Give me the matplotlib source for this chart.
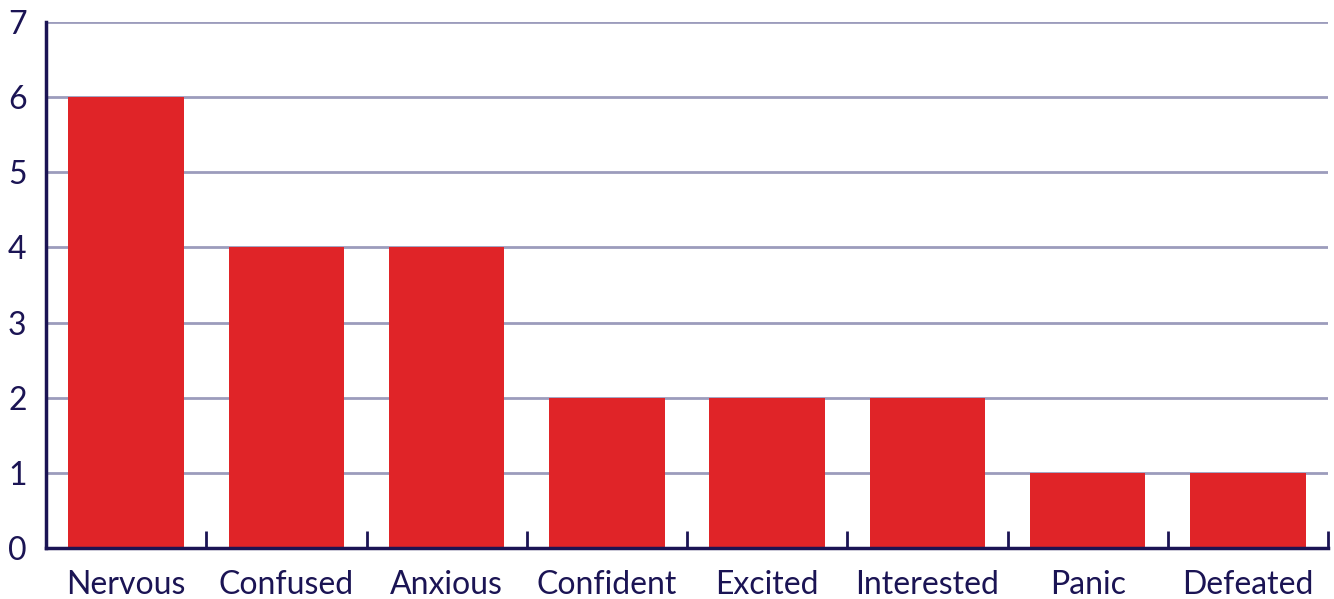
import numpy as np
import matplotlib.pyplot as plt

categories = ['Nervous', 'Confused', 'Anxious', 'Confident', 'Excited', 'Interested', 'Panic', 'Defeated']
counts = [6, 4, 4, 2, 2, 2, 1, 1]

navy = '#1b1454'
red = '#e02428'
grid_col = '#9c9cbc'

plt.rcParams['font.family'] = ['Lato', 'DejaVu Sans']

fig = plt.figure(figsize=(13.34, 5.99), dpi=100)
ax = fig.add_axes([0.0345, 0.0851, 0.961, 0.8782])

x = np.arange(len(categories))
ax.bar(x, counts, width=0.72, color=red, zorder=3)

ax.set_xlim(-0.5, len(categories) - 0.5)
ax.set_ylim(0, 7)
ax.set_yticks(range(8))
ax.yaxis.grid(True, color=grid_col, linewidth=2, zorder=0)

ax.set_xticks(x)
ax.set_xticklabels(categories)
ax.set_xticks(np.arange(-0.5, len(categories)), minor=True)
ax.tick_params(axis='x', which='major', length=0, pad=16, labelsize=23, labelcolor=navy)
ax.tick_params(axis='x', which='minor', direction='in', length=12, width=2, color=navy)
ax.tick_params(axis='y', length=0, pad=14, labelsize=23, labelcolor=navy)

for s in ['top', 'right']:
    ax.spines[s].set_visible(False)
for s in ['left', 'bottom']:
    ax.spines[s].set_color(navy)
    ax.spines[s].set_linewidth(2.5)
    ax.spines[s].set_zorder(4)

fig.savefig('out.png', dpi=100)
